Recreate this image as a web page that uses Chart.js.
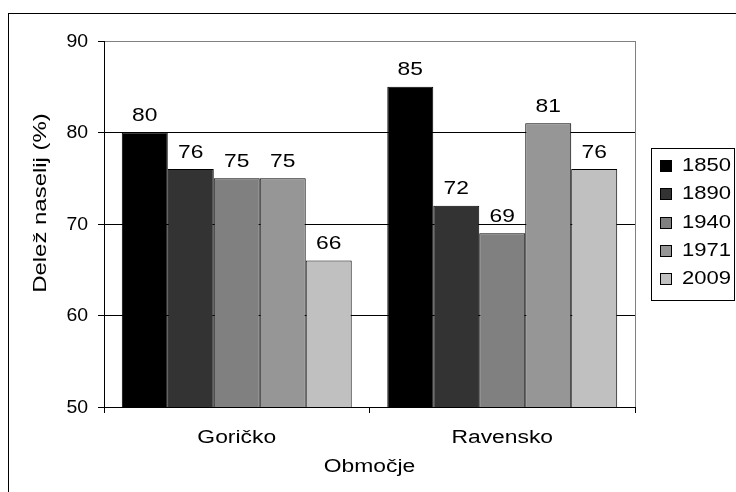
<!DOCTYPE html>
<html>
<head>
<meta charset="utf-8">
<script src="https://cdn.jsdelivr.net/npm/chart.js@4/dist/chart.umd.min.js"></script>
<style>
  html, body { margin: 0; padding: 0; background: #fff; }
  #wrap { width: 736px; height: 492px; position: relative; }
</style>
</head>
<body>
<div id="wrap"><canvas id="c" width="736" height="492"></canvas></div>
<script>
// Share of settlements per area and census year
const categories = ['Goričko', 'Ravensko'];
const years = ['1850', '1890', '1940', '1971', '2009'];
const v1850 = [80, 85];
const v1890 = [76, 72];
const v1940 = [75, 69];
const v1971 = [75, 81];
const v2009 = [66, 76];
const yTicks = [50, 60, 70, 80, 90];
const xTitle = 'Območje';
const yTitle = 'Delež naselij (%)';
const seriesValues = [v1850, v1890, v1940, v1971, v2009];
const seriesColors = ['#000000', '#333333', '#808080', '#969696', '#c0c0c0'];

const FONT = '"Liberation Sans", Arial, sans-serif';

const datasets = years.map((y, i) => ({
  label: y,
  data: seriesValues[i],
  backgroundColor: seriesColors[i],
  borderColor: '#000000',
  borderWidth: 1,
  borderSkipped: false,
  categoryPercentage: 0.866,
  barPercentage: 1.0
}));

// text with a horizontal widening factor (wide, Arial-like lettering)
function wideText(ctx, text, x, y, opts) {
  ctx.save();
  ctx.translate(x, y);
  if (opts.rotate) ctx.rotate(opts.rotate);
  ctx.scale(opts.sx || 1, 1);
  ctx.font = opts.size + 'px ' + FONT;
  ctx.fillStyle = '#000000';
  ctx.textAlign = opts.align || 'center';
  ctx.textBaseline = opts.baseline || 'alphabetic';
  ctx.fillText(text, 0, 0);
  ctx.restore();
}

// Outer frame, axis labels, value labels and boxed legend
const decorations = {
  id: 'decorations',
  beforeDraw(chart) {
    const ctx = chart.ctx;
    ctx.save();
    ctx.fillStyle = '#ffffff';
    ctx.fillRect(0, 0, chart.width, chart.height);
    ctx.strokeStyle = '#000000';
    ctx.lineWidth = 1;
    ctx.strokeRect(8.5, 13.5, 900, 700);
    ctx.restore();
  },
  afterDraw(chart) {
    const ctx = chart.ctx;
    const a = chart.chartArea;
    const xs = chart.scales.x;
    const ys = chart.scales.y;
    ctx.save();
    // right edge of plot area
    ctx.strokeStyle = '#808080';
    ctx.lineWidth = 1;
    ctx.beginPath();
    ctx.moveTo(Math.round(a.right) + 0.5, a.top);
    ctx.lineTo(Math.round(a.right) + 0.5, a.bottom);
    ctx.stroke();
    ctx.restore();

    // y tick labels
    yTicks.forEach(v => {
      wideText(ctx, String(v), 88, ys.getPixelForValue(v) + 1, { size: 18, sx: 1.08, align: 'right', baseline: 'middle' });
    });
    // category labels
    categories.forEach((c, i) => {
      wideText(ctx, c, xs.getPixelForValue(i), 443, { size: 18, sx: 1.27, align: 'center' });
    });
    // axis titles
    wideText(ctx, xTitle, (a.left + a.right) / 2, 472, { size: 18, sx: 1.27, align: 'center' });
    wideText(ctx, yTitle, 46, 203, { size: 18, sx: 1.33, align: 'center', rotate: -Math.PI / 2 });

    // value labels above bars
    chart.data.datasets.forEach((ds, di) => {
      const meta = chart.getDatasetMeta(di);
      meta.data.forEach((bar, i) => {
        wideText(ctx, String(ds.data[i]), bar.x, bar.y - 11.5, { size: 19, sx: 1.2, align: 'center' });
      });
    });

    // legend
    ctx.save();
    ctx.strokeStyle = '#000000';
    ctx.lineWidth = 1;
    ctx.strokeRect(651.5, 148.5, 83, 152);
    chart.data.datasets.forEach((ds, di) => {
      const base = Math.round(171 + di * 28.3);
      ctx.fillStyle = ds.backgroundColor;
      ctx.fillRect(660, base - 11, 12, 12);
      ctx.strokeStyle = '#000000';
      ctx.strokeRect(660.5, base - 10.5, 11, 11);
      wideText(ctx, ds.label, 682, base, { size: 19, sx: 1.16, align: 'left' });
    });
    ctx.restore();
  }
};

new Chart(document.getElementById('c'), {
  type: 'bar',
  data: { labels: categories, datasets },
  options: {
    responsive: false,
    animation: false,
    layout: { padding: { left: 33, top: 41, right: 101, bottom: 16 } },
    plugins: { legend: { display: false }, tooltip: { enabled: false } },
    scales: {
      x: {
        grid: { display: true, drawOnChartArea: false, drawTicks: true, tickLength: 6, color: '#000000', offset: true },
        border: { display: true, color: '#000000', width: 1 },
        ticks: { display: false },
        afterFit(scale) { scale.height = 69; }
      },
      y: {
        min: 50,
        max: 90,
        afterBuildTicks(scale) { scale.ticks = yTicks.map(v => ({ value: v })); },
        grid: {
          color: ctx => (ctx.tick && ctx.tick.value === 90 ? '#808080' : '#000000'),
          tickColor: '#000000',
          tickLength: 6,
          drawTicks: true
        },
        border: { display: true, color: '#000000', width: 1 },
        ticks: { display: false },
        afterFit(scale) { scale.width = 71; }
      }
    }
  },
  plugins: [decorations]
});
</script>
</body>
</html>
